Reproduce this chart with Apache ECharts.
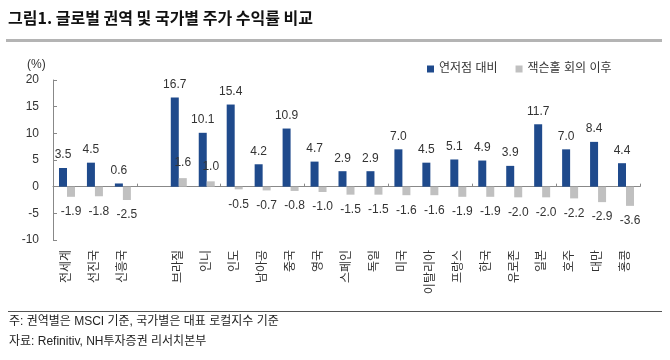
<!DOCTYPE html>
<html><head><meta charset="utf-8">
<script src="https://cdn.jsdelivr.net/npm/echarts@6/dist/echarts.min.js"></script>
<style>html,body{margin:0;padding:0;background:#fff}#c{width:670px;height:360px}</style>
</head><body><div id="c"></div>
<script>
var categories = ['전세계','선진국','신흥국','','브라질','인니','인도','남아공','중국','영국','스페인','독일','미국','이탈리아','프랑스','한국','유로존','일본','호주','대만','홍콩'];
var sinceLow = [3.5,4.5,0.6,null,16.7,10.1,15.4,4.2,10.9,4.7,2.9,2.9,7.0,4.5,5.1,4.9,3.9,11.7,7.0,8.4,4.4];
var sinceJackson = [-1.9,-1.8,-2.5,null,1.6,1.0,-0.5,-0.7,-0.8,-1.0,-1.5,-1.5,-1.6,-1.6,-1.9,-1.9,-2.0,-2.0,-2.2,-2.9,-3.6];
var yTicks = [-10,-5,0,5,10,15,20];
var seriesNames = ['연저점 대비','잭슨홀 회의 이후'];

var FONT = 'Liberation Sans, Arial, "Noto Sans CJK KR", sans-serif';
function items(arr){
  return arr.map(function(v){
    if (v === null) return {value: null};
    return {value: v, label: {position: v < 0 ? 'bottom' : 'top'}};
  });
}
var chart = echarts.init(document.getElementById('c'));
chart.setOption({
  animation: false,
  textStyle: {fontFamily: FONT},
  legend: {
    left: 422, top: 58, itemWidth: 7, itemHeight: 7, itemGap: 18,
    icon: 'rect',
    textStyle: {fontSize: 12, color: '#333', fontFamily: FONT},
    data: seriesNames
  },
  grid: {left: 53, right: 30, top: 80, bottom: 120},
  xAxis: [{
    type: 'category', data: categories,
    axisLine: {onZero: true, lineStyle: {color: '#888'}},
    axisTick: {show: true, inside: true, length: 3, lineStyle: {color: '#888'}},
    axisLabel: {show: false}
  },{
    type: 'category', data: categories, position: 'bottom',
    axisLine: {show: false, onZero: false}, axisTick: {show: false},
    axisLabel: {rotate: 90, margin: 10, fontSize: 12, color: '#333', interval: 0, fontFamily: FONT}
  }],
  yAxis: {
    type: 'value', min: yTicks[0], max: yTicks[yTicks.length-1], interval: 5,
    splitLine: {show: false},
    axisLine: {show: true, lineStyle: {color: '#888'}},
    axisTick: {show: true, inside: true, length: 4, lineStyle: {color: '#888'}},
    axisLabel: {margin: 14, fontSize: 12, color: '#333', fontFamily: FONT}
  },
  series: [{
    name: seriesNames[0], type: 'bar', barWidth: 8, barGap: '0%',
    itemStyle: {color: '#1F4A8C'},
    label: {show: true, distance: 7, fontSize: 12, color: '#333', fontFamily: FONT,
      formatter: function(p){ return p.value == null ? '' : Number(p.value).toFixed(1); }},
    data: items(sinceLow)
  },{
    name: seriesNames[1], type: 'bar', barWidth: 8,
    itemStyle: {color: '#C0C0C0'},
    label: {show: true, distance: 9, fontSize: 12, color: '#333', fontFamily: FONT,
      formatter: function(p){ return p.value == null ? '' : Number(p.value).toFixed(1); }},
    data: items(sinceJackson)
  }],
  graphic: [
    {type: 'text', left: 8, top: 10, style: {text: '그림1. 글로벌 권역 및 국가별 주가 수익률 비교', font: 'bold 16px "Noto Sans CJK KR", sans-serif', fill: '#111'}},
    {type: 'rect', shape: {x: 6, y: 39, width: 656, height: 3}, style: {fill: '#b4b4b4'}},
    {type: 'text', left: 27, top: 59, style: {text: '(%)', font: '12px ' + FONT, fill: '#333'}},
    {type: 'rect', shape: {x: 8, y: 311, width: 654, height: 1}, style: {fill: '#555'}},
    {type: 'text', left: 9, top: 316, style: {text: '주: 권역별은 MSCI 기준, 국가별은 대표 로컬지수 기준', font: '12px ' + FONT, fill: '#222'}},
    {type: 'text', left: 9, top: 336, style: {text: '자료: Refinitiv, NH투자증권 리서치본부', font: '12px ' + FONT, fill: '#222'}}
  ]
});
</script></body></html>
